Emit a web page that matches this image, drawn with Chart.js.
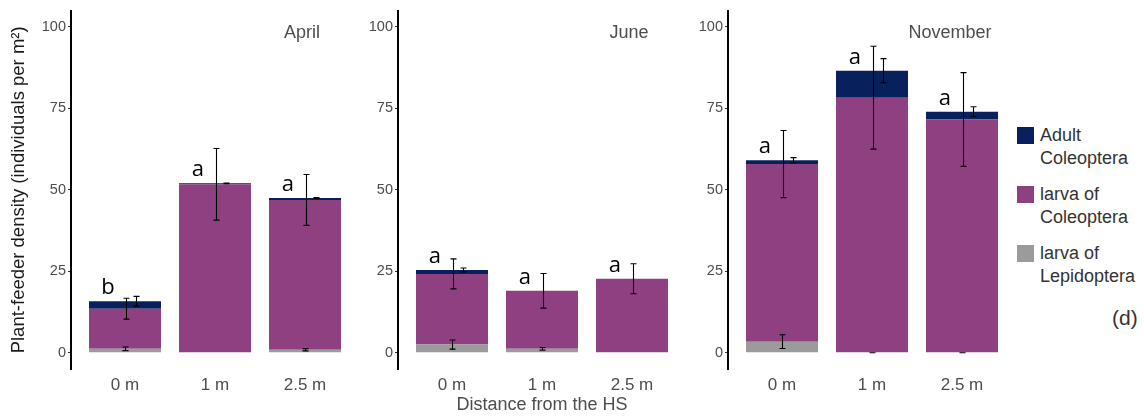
<!DOCTYPE html>
<html>
<head>
<meta charset="utf-8">
<title>Plant-feeder density</title>
<script src="https://cdn.jsdelivr.net/npm/chart.js@4.4.1/dist/chart.umd.min.js"></script>
<style>
    body { margin: 0; background: #fff; width: 1144px; height: 417px; position: relative; overflow: hidden;
           font-family: "Liberation Sans", Arial, sans-serif; }
    canvas { position: absolute; top: 0; }
    #legend { position: absolute; left: 1017px; top: 124px; color: #333; font-size: 18px; line-height: 22.5px; }
    .item { position: relative; padding-left: 23px; margin-bottom: 14px; white-space: nowrap; }
    .box { position: absolute; left: 0; top: 3px; width: 17px; height: 17px; }
    #tag { position: absolute; left: 1112px; top: 307px; font-size: 21px; line-height: 21px; color: #333; }
</style>
</head>
<body>
<div id="legend"></div>
<div id="tag">(d)</div>
<script>
// ---------------------------------------------------------------------------
// Data (individuals per m², stacked: Lepidoptera larva, Coleoptera larva, adult Coleoptera)
// ---------------------------------------------------------------------------

const distances = ["0 m", "1 m", "2.5 m"];
const yTicks = [0, 25, 50, 75, 100];
const seriesNames = ["larva of Lepidoptera", "larva of Coleoptera", "Adult Coleoptera"];
const seriesColors = ["#9b9b9b", "#8f4080", "#08205c"];

const aprilLepLarva = [1.2, null, 0.9];
const aprilLepLarvaErr = [0.55, null, 0.35];
const aprilColLarva = [12.3, 51.7, 46.0];
const aprilColLarvaErr = [3.2, 11.0, 7.8];
const aprilColAdult = [2.3, 0.3, 0.6];
const aprilColAdultErr = [1.5, 0.1, 0.15];
const aprilLetters = ["b", "a", "a"];

const juneLepLarva = [2.5, 1.2, null];
const juneLepLarvaErr = [1.4, 0.4, null];
const juneColLarva = [21.7, 17.8, 22.7];
const juneColLarvaErr = [4.6, 5.3, 4.6];
const juneColAdult = [1.2, null, null];
const juneColAdultErr = [0.6, null, null];
const juneLetters = ["a", "a", "a"];

const novLepLarva = [3.4, 0, 0];
const novLepLarvaErr = [2.1, 0, 0];
const novColLarva = [54.5, 78.3, 71.6];
const novColLarvaErr = [10.3, 15.8, 14.4];
const novColAdult = [1.2, 8.3, 2.4];
const novColAdultErr = [0.8, 3.7, 1.5];
const novLetters = ["a", "a", "a"];

// ---------------------------------------------------------------------------
// Panel layout / style
// ---------------------------------------------------------------------------

const errDodge = [0, 0.01, 0.12];   // error bar shift per series (x units)
const letterShift = -0.19;
const tickGrey = "#4d4d4d";
const sans = "'Liberation Sans', Arial, sans-serif";

const panels = [
    { month: "April", left: 0, width: 360, axisWidth: 71, padRight: 1, titleX: 2.967,
      values: [aprilLepLarva, aprilColLarva, aprilColAdult],
      errors: [aprilLepLarvaErr, aprilColLarvaErr, aprilColAdultErr], letters: aprilLetters },
    { month: "June", left: 360, width: 330, axisWidth: 38, padRight: 4, titleX: 2.967,
      values: [juneLepLarva, juneColLarva, juneColAdult],
      errors: [juneLepLarvaErr, juneColLarvaErr, juneColAdultErr], letters: juneLetters },
    { month: "November", left: 690, width: 330, axisWidth: 38, padRight: 4, titleX: 2.867,
      values: [novLepLarva, novColLarva, novColAdult],
      errors: [novLepLarvaErr, novColLarvaErr, novColAdultErr], letters: novLetters },
];

// error bars, significance letters and month title, drawn through the chart scales
function annotations(p) {
    return {
        id: "annotations",
        afterDatasetsDraw(chart) {
            const { ctx } = chart;
            const xs = chart.scales.x, ys = chart.scales.y;
            ctx.save();
            ctx.strokeStyle = "#000";
            ctx.lineWidth = 1.1;
            distances.forEach((_, i) => {
                let base = 0;
                p.values.forEach((vals, s) => {
                    const v = vals[i];
                    if (v == null) return;
                    const top = base + v;
                    base = top;
                    const e = p.errors[s][i];
                    if (e == null) return;
                    const x = Math.round(xs.getPixelForValue(i + 1 + errDodge[s])) + 0.5;
                    const y1 = ys.getPixelForValue(top + e);
                    const y2 = ys.getPixelForValue(top - e);
                    ctx.beginPath();
                    ctx.moveTo(x, y1); ctx.lineTo(x, y2);
                    ctx.moveTo(x - 3, y1); ctx.lineTo(x + 3, y1);
                    ctx.moveTo(x - 3, y2); ctx.lineTo(x + 3, y2);
                    ctx.stroke();
                });
                ctx.fillStyle = "#000";
                ctx.font = "22px 'Open Sans', sans-serif";
                ctx.textAlign = "center";
                ctx.textBaseline = "alphabetic";
                ctx.fillText(p.letters[i], xs.getPixelForValue(i + 1 + letterShift), ys.getPixelForValue(base) - 7);
            });
            ctx.fillStyle = tickGrey;
            ctx.font = "18px " + sans;
            ctx.textAlign = "center";
            ctx.textBaseline = "middle";
            ctx.fillText(p.month, xs.getPixelForValue(p.titleX), ys.getPixelForValue(98));
            ctx.restore();
        },
    };
}

function makePanel(p, idx) {
    const canvas = document.createElement("canvas");
    canvas.width = p.width;
    canvas.height = 417;
    canvas.style.left = p.left + "px";
    document.body.appendChild(canvas);

    const datasets = p.values.map((vals, s) => ({
        label: seriesNames[s],
        data: vals.map((v, i) => ({ x: i + 1, y: v })),
        backgroundColor: seriesColors[s],
        borderWidth: 0,
        barPercentage: 0.8,
        categoryPercentage: 1,
    }));

    new Chart(canvas, {
        type: "bar",
        data: { datasets },
        options: {
            responsive: false,
            animation: false,
            layout: { padding: { top: 10, right: p.padRight, left: 0, bottom: 0 } },
            plugins: { legend: { display: false }, tooltip: { enabled: false } },
            scales: {
                x: {
                    type: "linear", stacked: true, min: 0.4, max: 3.6, offset: false,
                    afterBuildTicks: (s) => { s.ticks = distances.map((_, i) => ({ value: i + 1 })); },
                    ticks: {
                        callback: (v) => distances[v - 1],
                        color: tickGrey, font: { family: sans, size: 17, lineHeight: 1 },
                        padding: 0, maxRotation: 0, autoSkip: false,
                    },
                    grid: { display: false, offset: false },
                    border: { display: false },
                    title: {
                        display: idx === 1, text: "Distance from the HS", color: tickGrey,
                        font: { family: sans, size: 18 }, padding: { top: 0, bottom: 1 },
                    },
                    afterFit: (s) => { s.height = 48; },
                },
                y: {
                    stacked: true, min: -5, max: 105,
                    afterBuildTicks: (s) => { s.ticks = yTicks.map((v) => ({ value: v })); },
                    ticks: { color: tickGrey, font: { family: sans, size: 14.5 }, padding: 2 },
                    grid: { drawOnChartArea: false, tickLength: 3, tickColor: "#333" },
                    border: { color: "#000", width: 2 },
                    title: {
                        display: idx === 0, text: "Plant-feeder density (individuals per m²)", color: "#1a1a1a",
                        font: { family: sans, size: 18.5 }, padding: { top: 8, bottom: 0 },
                    },
                    afterFit: (s) => { s.width = p.axisWidth; },
                },
            },
        },
        plugins: [annotations(p)],
    });
}

panels.forEach(makePanel);

// ---------------------------------------------------------------------------
// Legend (top series first)
// ---------------------------------------------------------------------------

const legend = document.getElementById("legend");
[2, 1, 0].forEach((s) => {
    const name = seriesNames[s];
    const cut = name.lastIndexOf(" ");
    const item = document.createElement("div");
    item.className = "item";
    item.innerHTML = `<span class="box" style="background:${seriesColors[s]}"></span>` +
        `${name.slice(0, cut)}<br>${name.slice(cut + 1)}`;
    legend.appendChild(item);
});
</script>
</body>
</html>
